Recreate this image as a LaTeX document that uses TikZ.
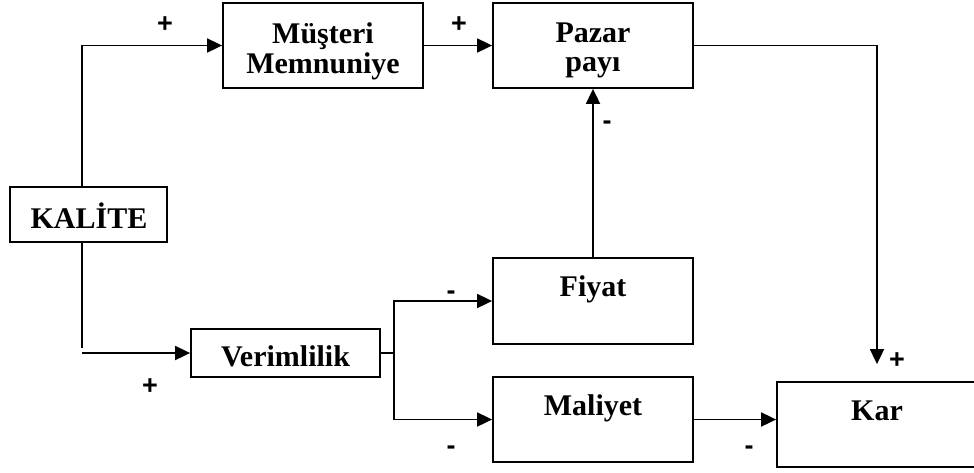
\documentclass[tikz,border=0pt]{standalone}
\usepackage{fontspec}
\setmainfont{Liberation Serif}
\newfontfamily\signfont{Liberation Sans}
\usetikzlibrary{arrows.meta}
\begin{document}
\begin{tikzpicture}[x=1pt,y=-1pt,
  box/.style={draw, line width=1.8pt, minimum width=200pt, inner sep=0pt},
  txt/.style={inner sep=0pt, anchor=base, font=\fontsize{30}{30}\selectfont\bfseries},
  sign/.style={inner sep=0pt, anchor=base, font=\signfont\fontsize{27}{27}\selectfont\bfseries},
  conn/.style={line width=1.8pt},
  arr/.style={conn, -{Triangle[length=15pt,width=14pt]}}]
\useasboundingbox (0,0) rectangle (974,472);

% boxes
\node[box, minimum width=157pt, minimum height=55pt] (KAL) at (88.5,214.5) {};
\node[box, minimum height=85pt] (MUS) at (323,45.5) {};
\node[box, minimum height=85pt] (PAZ) at (593,45.5) {};
\node[box, minimum height=86pt] (FIY) at (593,301) {};
\node[box, minimum width=189pt, minimum height=48pt] (VER) at (285.5,353) {};
\node[box, minimum height=85pt] (MAL) at (593,419.5) {};
\node[box, minimum height=85pt] (KAR) at (877,424.5) {};

% texts (placed by baseline)
\node[txt] (KALt) at (89,228) {KALİTE};
\node[txt] (MUSt1) at (323,43) {Müşteri};
\node[txt] (MUSt2) at (323,73) {Memnuniye};
\node[txt] (PAZt1) at (593,42) {Pazar};
\node[txt] (PAZt2) at (593,71) {payı};
\node[txt] (VERt) at (285.5,366) {Verimlilik};
\node[txt] (FIYt) at (593,296) {Fiyat};
\node[txt] (MALt) at (593,415) {Maliyet};
\node[txt] (KARt) at (877,420) {Kar};

% signs
\node[sign] (s1) at (165,32) {+};
\node[sign] (s2) at (459,32) {+};
\node[sign] (s3) at (607,129) {-};
\node[sign] (s4) at (150,394) {+};
\node[sign] (s5) at (451,299) {-};
\node[sign] (s6) at (451,454) {-};
\node[sign] (s7) at (897,368) {+};
\node[sign] (s8) at (749,454) {-};

% connectors
\coordinate (kx) at (82,0);
\coordinate (kb) at (82,348);
\coordinate (vs) at (82,353);
\coordinate (br) at (394,353);
\draw[arr] (KAL.north -| kx) |- (MUS.west);
\draw[arr] (MUS.east) -- (PAZ.west);
\draw[arr] (PAZ.east) -| ([yshift=17pt]KAR.north);
\draw[arr] (FIY.north) -- (PAZ.south);
\draw[conn] (KAL.south -| kx) -- (kb);
\draw[arr] (vs) -- (VER.west);
\draw[conn] (VER.east) -- (br);
\draw[arr] (br) |- (FIY.west);
\draw[arr] (br) |- (MAL.west);
\draw[arr] (MAL.east) -- (MAL.east -| KAR.west);
\end{tikzpicture}
\end{document}
